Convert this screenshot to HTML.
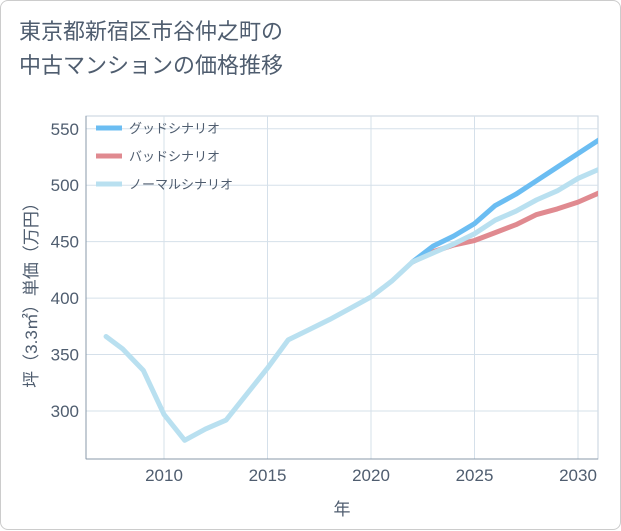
<!DOCTYPE html>
<html><head><meta charset="utf-8">
<style>
body{margin:0;background:#fff;font-family:"Liberation Sans","Noto Sans CJK JP",sans-serif;}
#card{position:absolute;left:0;top:0;width:619px;height:528px;border:1px solid #ccc;border-radius:8px;background:#fff;}
#title{position:absolute;left:18px;top:14px;font-size:22px;line-height:34px;color:#4f5d6f;}
svg{position:absolute;left:0;top:0}
</style></head><body>
<div id="card">
<div id="title">東京都新宿区市谷仲之町の<br>中古マンションの価格推移</div>
<svg id="chart" width="621" height="530"></svg>
</div>
<script>
const years=[2007.2,2008,2009,2010,2011,2012,2013,2014,2015,2016,2017,2018,2019,2020,2021,2022,2023,2024,2025,2026,2027,2028,2029,2030,2031];
const normal=[366,355,336,297,274,284,292,315,338,363,372,381,391,401,415,432,440,448,457,469,477,487,495,506,514];
const fyears=[2022,2023,2024,2025,2026,2027,2028,2029,2030,2031];
const good=[432,446,455,466,482,492,504,516,528,540];
const bad=[432,441,447,451,458,465,474,479,485,493];
const xTicks=[2010,2015,2020,2025,2030];
const yTicks=[300,350,400,450,500,550];
const X0=85,X1=597,Y0=115,Y1=458;
const x=v=>163+(v-2010)*20.7;
const y=v=>410-(v-300)*1.129;
const svg=document.getElementById('chart');
const NS='http://www.w3.org/2000/svg';
function mk(t,a){const e=document.createElementNS(NS,t);for(const k in a)e.setAttribute(k,a[k]);svg.appendChild(e);return e;}
let bg=mk('rect',{x:X0,y:Y0,width:X1-X0,height:Y1-Y0,fill:'#fff',stroke:'#c5d2de'});


xTicks.forEach(v=>{
 let l=mk('line',{x1:x(v),x2:x(v),y1:Y0,y2:Y1,stroke:'#d5e0ea'});
 
 
 let t=mk('text',{x:x(v),y:480,'text-anchor':'middle','font-size':17,fill:'#4f5d6f'});t.textContent=v;
 
 
});
yTicks.forEach(v=>{
 let l=mk('line',{x1:X0,x2:X1,y1:y(v),y2:y(v),stroke:'#d5e0ea'});
 
 
 let t=mk('text',{x:78,y:y(v)+6,'text-anchor':'end','font-size':17,fill:'#4f5d6f'});t.textContent=v;
 
 
});
let ax=mk('line',{x1:X0,x2:X0,y1:Y0,y2:Y1,stroke:'#8898aa'});


let axb=mk('line',{x1:X0,x2:X1,y1:Y1,y2:Y1,stroke:'#8898aa'});


function line(xs,ys,c,n){let p=mk('polyline',{points:xs.map((v,i)=>x(v)+','+y(ys[i])).join(' '),fill:'none',stroke:c,'stroke-width':5,'stroke-linejoin':'round','stroke-linecap':'round'});
 
 }
svg.insertAdjacentHTML('beforeend','<clipPath id="c"><rect x="85" y="115" width="512" height="343"/></clipPath>');
line(fyears,bad,'#e08a90','bad-scenario-line');
line(fyears,good,'#6bbdf2','good-scenario-line');
line(years,normal,'#b9e0f0','normal-scenario-line');
svg.querySelectorAll('polyline').forEach(p=>p.setAttribute('clip-path','url(#c)'));
const leg=[['グッドシナリオ','#6bbdf2'],['バッドシナリオ','#e08a90'],['ノーマルシナリオ','#b9e0f0']];
leg.forEach((d,i)=>{let yy=127+i*28;
 let l=mk('line',{x1:95,x2:121,y1:yy,y2:yy,stroke:d[1],'stroke-width':5});
 
 
 let t=mk('text',{x:128,y:yy+5,'font-size':13,fill:'#4f5d6f'});t.textContent=d[0];
 
 });
let xt=mk('text',{x:341,y:514,'text-anchor':'middle','font-size':17,fill:'#4f5d6f'});xt.textContent='年';


let yt=mk('text',{x:0,y:0,'text-anchor':'middle','font-size':17,fill:'#4f5d6f',transform:'translate(36,290) rotate(-90)'});yt.textContent='坪（3.3㎡）単価（万円）';


</script>
</body></html>
